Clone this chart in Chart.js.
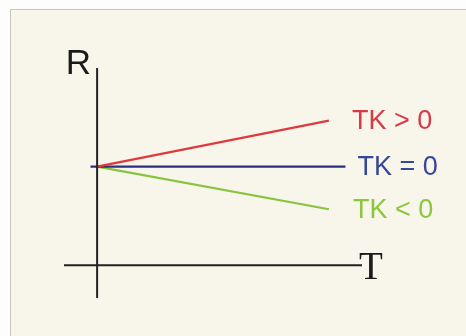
<!DOCTYPE html>
<html>
<head>
<meta charset="utf-8">
<script src="https://cdn.jsdelivr.net/npm/chart.js@4/dist/chart.umd.min.js"></script>
<style>
  html, body { margin: 0; padding: 0; background: #fdfdfb; }
  #frame {
    position: absolute; left: 10px; top: 9px; width: 456px; height: 327px;
    background: #f8f5eb; border-left: 1px solid #c8c6bc; border-top: 1px solid #c8c6bc;
  }
  #wrap { position: absolute; left: 0; top: 0; width: 466px; height: 336px; }
</style>
</head>
<body>
<div id="frame"></div>
<div id="wrap"><canvas id="chart_canvas" width="466" height="336"></canvas></div>
<script>
"use strict";
// R(T) for three temperature coefficients, all starting from the same R0
const t_start = 0;
const t_end = 7;
const r_start = 3;
const labels = ["TK > 0", "TK = 0", "TK < 0"];
const r_end = [4.4, 3, 1.7];
const blue_span = [-0.2, 7.5];

// axis extents
const t_axis = [-1, 8];
const r_axis = [-1, 6];

const colors = ["#e0393c", "#2c2f7e", "#88c43e"];
const text_colors = ["#d63a45", "#34479a", "#8cc63f"];

function line(points, color, width) {
  return {
    data: points,
    borderColor: color,
    borderWidth: width,
    pointRadius: 0,
    showLine: true,
    fill: false,
    clip: false
  };
}

const datasets = [
  line([{ x: t_axis[0], y: 0 }, { x: t_axis[1], y: 0 }], "#222", 2),
  line([{ x: 0, y: r_axis[0] }, { x: 0, y: r_axis[1] }], "#222", 2),
  line([{ x: t_start, y: r_start }, { x: t_end, y: r_end[0] }], colors[0], 2.2),
  line([{ x: blue_span[0], y: r_start }, { x: blue_span[1], y: r_end[1] }], colors[1], 2.2),
  line([{ x: t_start, y: r_start }, { x: t_end, y: r_end[2] }], colors[2], 2.2)
];

// text next to the lines and the axis letters
const label_plugin = {
  id: "labels",
  afterDatasetsDraw(chart) {
    const ctx = chart.ctx;
    const xs = chart.scales.x, ys = chart.scales.y;
    ctx.save();
    ctx.textBaseline = "middle";
    ctx.textAlign = "left";
    ctx.font = "27px 'Liberation Sans', Arial, sans-serif";
    const ends = [t_end, blue_span[1], t_end];
    const gaps = [23, 12, 24];
    labels.forEach((txt, i) => {
      ctx.fillStyle = text_colors[i];
      ctx.fillText(txt, xs.getPixelForValue(ends[i]) + gaps[i], ys.getPixelForValue(r_end[i]) + 1);
    });
    ctx.fillStyle = "#1a1a1a";
    ctx.textBaseline = "alphabetic";
    ctx.textAlign = "right";
    ctx.font = "35px 'Liberation Sans', Arial, sans-serif";
    ctx.fillText("R", xs.getPixelForValue(0) - 6, ys.getPixelForValue(r_axis[1]) + 6);
    ctx.textAlign = "left";
    ctx.font = "39px 'Liberation Serif', 'Times New Roman', serif";
    ctx.fillText("T", xs.getPixelForValue(t_axis[1]) - 3, ys.getPixelForValue(0) + 14);
    ctx.restore();
  }
};

new Chart(document.getElementById("chart_canvas"), {
  type: "scatter",
  data: { datasets: datasets },
  options: {
    responsive: false,
    animation: false,
    events: [],
    layout: { padding: { left: 64, right: 104, top: 68, bottom: 38 } },
    plugins: { legend: { display: false }, tooltip: { enabled: false } },
    scales: {
      x: { type: "linear", display: false, min: t_axis[0], max: t_axis[1] },
      y: { type: "linear", display: false, min: r_axis[0], max: r_axis[1] }
    }
  },
  plugins: [label_plugin]
});
</script>
</body>
</html>
